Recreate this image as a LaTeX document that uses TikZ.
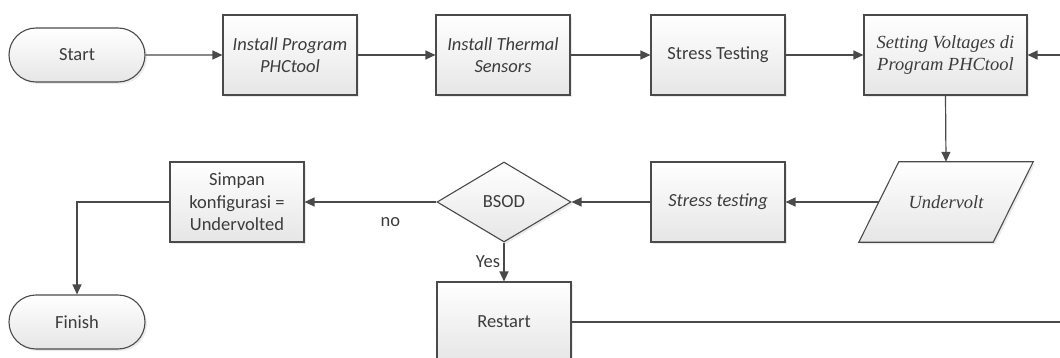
\documentclass[tikz,border=0pt]{standalone}
\usepackage{fontspec}
\setmainfont{Carlito}
\newfontfamily\timesfam{Liberation Serif}
\usetikzlibrary{shapes.geometric,shapes.misc,arrows.meta,shadows,calc,backgrounds}
\definecolor{edge}{HTML}{4A4A4A}
\definecolor{txt}{HTML}{3C3C3C}
\definecolor{fillbot}{HTML}{E6E6E6}
\begin{document}
\begin{tikzpicture}[x=1pt,y=-1pt,
  fnt/.style={font=\fontsize{18.5}{22.5}\selectfont},
  base/.style={draw=edge, line width=1.1pt, top color=white, bottom color=fillbot,
    text=txt, fnt, align=center, inner sep=0pt,
    drop shadow={shadow xshift=2pt, shadow yshift=-2pt, opacity=0.08, fill=black}},
  proc/.style={base, rectangle, minimum width=134pt, minimum height=80pt},
  term/.style={base, rounded rectangle, minimum width=136pt, minimum height=54pt},
  dec/.style={base, diamond, minimum width=134pt, minimum height=80pt},
  link/.style={draw=edge, line width=1.2pt, -{Triangle[length=10pt,width=9pt]}},
  lbl/.style={text=txt, fnt},
  ser/.style={font=\timesfam\itshape\fontsize{18.5}{22.5}\selectfont}
]
\useasboundingbox (0,0) rectangle (1060,358);
\clip (0,0) rectangle (1060,358);
\begin{scope}[on background layer]
\fill[white] (0,0) rectangle (1060,358);
\end{scope}

% top row
\node[term] (start) at (77,55) {Start};
\node[proc] (ip) at (290,55) {\itshape Install Program\\\itshape PHCtool};
\node[proc] (its) at (503,55) {\itshape Install Thermal\\\itshape Sensors};
\node[proc] (st) at (718,55) {Stress Testing};
\node[proc, ser, minimum width=163pt] (sv) at (945.5,55) {Setting Voltages di\\Program PHCtool};

% middle row
\node[minimum width=134pt, minimum height=80pt, inner sep=0pt, text=txt, ser] (uv) at (946,202) {Undervolt};
\begin{scope}[on background layer]
\shade[draw=edge, line width=1.1pt, top color=white, bottom color=fillbot,
  drop shadow={shadow xshift=2pt, shadow yshift=-2pt, opacity=0.08, fill=black}]
  ($(uv.north west)+(20,0)$) -- ($(uv.north east)+(20,0)$) --
  ($(uv.south east)+(-20,0)$) -- ($(uv.south west)+(-20,0)$) -- cycle;
\end{scope}
\node[proc] (st2) at (718,202) {\itshape Stress testing};
\node[dec] (bsod) at (504,202) {BSOD};
\node[proc] (simpan) at (237,202) {Simpan\\konfigurasi =\\Undervolted};

% bottom row
\node[term] (finish) at (77,322) {Finish};
\node[proc] (restart) at (504,322) {Restart};

% connectors
\draw[link] (start) -- (ip);
\draw[link] (ip) -- (its);
\draw[link] (its) -- (st);
\draw[link] (st) -- (sv);
\draw[link] (sv.south) -- (uv.north);
\draw[link] (uv) -- (st2);
\draw[link] (st2) -- (bsod);
\draw[link] (bsod) -- node[lbl, pos=0.35, yshift=-20pt] (no) {no} (simpan);
\draw[link] (simpan.west) -| (finish.north);
\draw[link] (bsod) -- node[lbl, left, pos=0.5] (yes) {Yes} (restart);
\coordinate (rr) at (1085,322);
\draw[link] (restart.east) -- (rr) |- (sv.east);
\end{tikzpicture}
\end{document}
